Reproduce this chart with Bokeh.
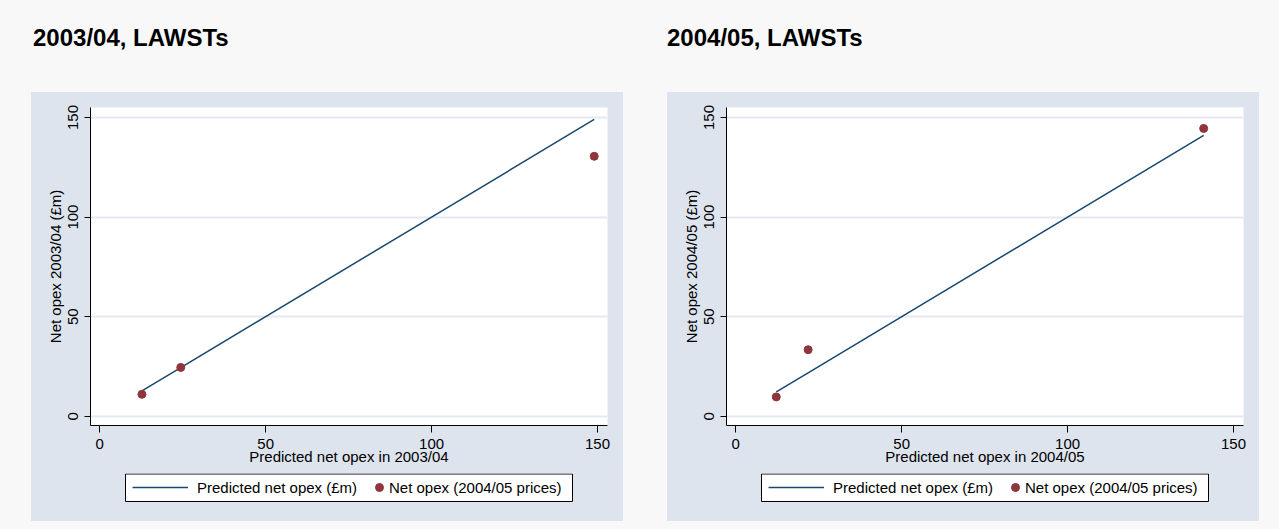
import numpy as np
from bokeh.plotting import figure
from bokeh.models import Range1d, FixedTicker, Legend, LegendItem, Div, BoxAnnotation
from bokeh.layouts import row, column
from bokeh.embed import file_html
from bokeh.resources import INLINE

# ---- data ----
titles = ["2003/04, LAWSTs", "2004/05, LAWSTs"]
x_labels = ["Predicted net opex in 2003/04", "Predicted net opex in 2004/05"]
y_labels = ["Net opex 2003/04 (\u00a3m)", "Net opex 2004/05 (\u00a3m)"]
pred_0304 = [12.7, 24.4, 149.0]
actual_0304 = [11.0, 24.5, 130.5]
pred_0405 = [12.2, 21.8, 141.0]
actual_0405 = [9.7, 33.4, 144.5]
tick_values = [0, 50, 100, 150]
line_label = "Predicted net opex (\u00a3m)"
dot_label = "Net opex (2004/05 prices)"

# ---- style ----
PAGE = "#f8f8f8"
PANEL = "#dee4ee"
GRID = "#e4e9f1"
NAVY = "#1a476f"
MAROON = "#90353b"
FONT = "Liberation Sans"


def make_panel(pred, actual, xlab, ylab):
    p = figure(width=592, height=380,
               x_range=Range1d(-2.8, 153.0), y_range=Range1d(-4.65, 155.0),
               output_backend="svg", toolbar_location=None,
               min_border_left=59, min_border_right=16,
               min_border_top=15, min_border_bottom=47,
               background_fill_color="white", border_fill_color=PANEL,
               outline_line_color=None, margin=0)

    order = np.argsort(pred)
    xs = [pred[i] for i in order]
    p.line(xs, xs, line_color=NAVY, line_width=1.5)
    p.scatter(pred, actual, size=8, fill_color=MAROON, line_color=MAROON)

    for ax in (p.xaxis[0], p.yaxis[0]):
        ax.ticker = FixedTicker(ticks=tick_values)
        ax.minor_tick_line_color = None
        ax.major_tick_in = 0
        ax.axis_line_color = "black"
        ax.major_tick_line_color = "black"
        ax.major_label_text_font = FONT
        ax.major_label_text_font_size = "15px"
        ax.major_label_text_color = "black"
        ax.axis_label_text_font = FONT
        ax.axis_label_text_font_size = "15px"
        ax.axis_label_text_font_style = "normal"
        ax.axis_label_text_color = "black"

    p.xaxis.axis_label = xlab
    p.xaxis.major_tick_out = 7
    p.xaxis.major_label_standoff = 6
    p.xaxis.axis_label_standoff = -4

    p.yaxis.axis_label = ylab
    p.yaxis.major_tick_out = 6
    p.yaxis.major_label_orientation = "vertical"
    p.yaxis.major_label_standoff = 6
    p.yaxis.axis_label_standoff = 2

    p.xgrid.grid_line_color = None
    p.ygrid.grid_line_color = GRID
    p.ygrid.grid_line_width = 2

    # legend strip below the plot: same borders as the plot so frames align;
    # its ranges are pixel offsets inside the strip
    lg = figure(width=592, height=49, x_range=Range1d(0, 517), y_range=Range1d(0, 47),
                output_backend="svg", toolbar_location=None,
                x_axis_type=None, y_axis_type=None,
                min_border_left=59, min_border_right=16,
                min_border_top=1, min_border_bottom=1,
                background_fill_color=PANEL, border_fill_color=PANEL,
                outline_line_color=None, margin=0)
    lg.grid.visible = False
    lg.extra_y_ranges = {"hidden": Range1d(1000, 1001)}
    box = BoxAnnotation(left=35, right=482, bottom=19, top=46.5,
                        fill_color="white", fill_alpha=1.0,
                        line_color="black", line_alpha=1.0, line_width=1)
    lg.add_layout(box)
    r_line = lg.line(xs, xs, line_color=NAVY, line_width=1.5, y_range_name="hidden")
    r_dot = lg.scatter(pred, actual, size=8, fill_color=MAROON, line_color=MAROON,
                       y_range_name="hidden")

    common = dict(orientation="horizontal", padding=0, margin=0, spacing=0,
                  glyph_height=20, label_height=20,
                  border_line_color=None, background_fill_alpha=0.0,
                  label_text_font=FONT, label_text_font_size="15px",
                  label_text_color="black")
    leg1 = Legend(items=[LegendItem(label=line_label, renderers=[r_line])],
                  location=(42, 23), glyph_width=56, label_standoff=9, **common)
    leg2 = Legend(items=[LegendItem(label=dot_label, renderers=[r_dot])],
                  location=(279, 23), glyph_width=20, label_standoff=0, **common)
    lg.add_layout(leg1)
    lg.add_layout(leg2)
    return column(p, lg, margin=0, spacing=0, width=592, height=429,
                  styles={"background-color": PANEL})


c1 = make_panel(pred_0304, actual_0304, x_labels[0], y_labels[0])
c2 = make_panel(pred_0405, actual_0405, x_labels[1], y_labels[1])
c1.margin = (0, 0, 0, 31)
c2.margin = (0, 0, 0, 44)

title_style = ("font-family:'Liberation Sans',Arial,sans-serif;font-weight:bold;"
               "font-size:24px;line-height:24px;color:#000;white-space:nowrap;")
t1 = Div(text=f'<div style="{title_style}padding:26px 0 0 33px;">{titles[0]}</div>',
         width=636, height=92, margin=0)
t2 = Div(text=f'<div style="{title_style}padding:26px 0 0 31px;">{titles[1]}</div>',
         width=643, height=92, margin=0)

layout = column(row(t1, t2, margin=0, spacing=0),
                row(c1, c2, margin=0, spacing=0),
                margin=0, spacing=0, width=1279, height=529,
                styles={"background-color": PAGE})

open("out.html", "w").write(file_html(layout, INLINE))
